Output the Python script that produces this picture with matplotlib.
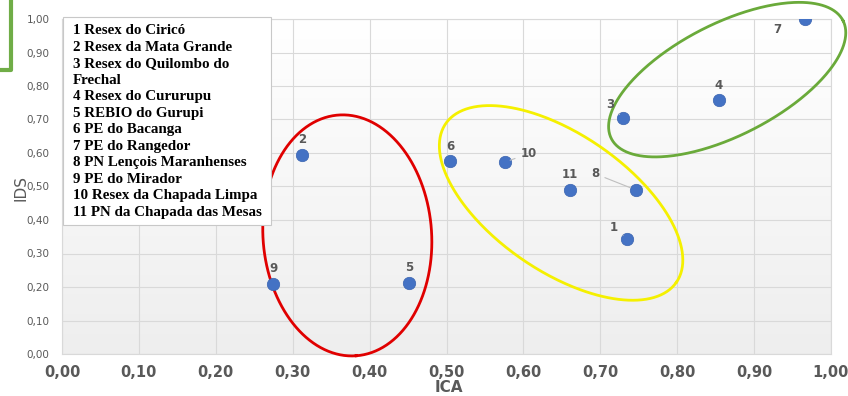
import numpy as np
import matplotlib
matplotlib.use("Agg")
import matplotlib.pyplot as plt
from matplotlib.lines import Line2D
from matplotlib.patches import Rectangle
from matplotlib.ticker import FuncFormatter, MultipleLocator

# dados (ICA x IDS)
ids_labels = ["1", "2", "3", "4", "5", "6", "7", "8", "9", "10", "11"]
ica = [0.735, 0.312, 0.730, 0.854, 0.451, 0.505, 0.966, 0.746, 0.275, 0.576, 0.660]
ids = [0.343, 0.595, 0.703, 0.757, 0.212, 0.576, 1.000, 0.490, 0.210, 0.573, 0.490]

legend_lines = [
    "1 Resex do Ciricó",
    "2 Resex da Mata Grande",
    "3 Resex do Quilombo do",
    "Frechal",
    "4 Resex do Cururupu",
    "5 REBIO do Gurupi",
    "6 PE do Bacanga",
    "7 PE do Rangedor",
    "8 PN Lençois Maranhenses",
    "9 PE do Mirador",
    "10 Resex da Chapada Limpa",
    "11 PN da Chapada das Mesas",
]

# deslocamento dos rótulos (pontos) e se tem linha guia
label_off = {
    "1": (-9.5, 8.5), "3": (-9.5, 10), "7": (-19.5, -7.5),
    "8": (-29, 11.5), "10": (17, 6),
}
leader = ["1", "3", "8", "10"]

# elipses: centro (dados), semi-eixos em pixels, angulo
ellipses = [
    ((0.371, 0.354), 120.7, 84.3, -85.8, "#e00000"),
    ((0.649, 0.451), 140.0, 68.5, -34.5, "#f5f000"),
    ((0.865, 0.819), 130.0, 56.0, 27.0, "#6aaa3a"),
]

fig = plt.figure(figsize=(8.48, 3.96), dpi=100)
fig.patch.set_facecolor("white")
ax = fig.add_axes([62 / 848, 42 / 396, (831 - 62) / 848, (354 - 19) / 396])
ax.set_xlim(0, 1)
ax.set_ylim(0, 1)

# fundo em degrade
grad = np.linspace(0, 1, 256).reshape(-1, 1)
cm = matplotlib.colors.LinearSegmentedColormap.from_list("g", ["#eeeeee", "#ffffff"])
ax.imshow(grad, extent=[0, 1, 0, 1], aspect="auto", cmap=cm, origin="lower", zorder=0)

ax.xaxis.set_major_locator(MultipleLocator(0.1))
ax.yaxis.set_major_locator(MultipleLocator(0.1))
fmt = FuncFormatter(lambda v, p: f"{v:.2f}".replace(".", ","))
ax.xaxis.set_major_formatter(fmt)
ax.yaxis.set_major_formatter(fmt)
ax.grid(True, color="#d9d9d9", linewidth=0.8, zorder=1)
ax.set_axisbelow(True)
for s in ax.spines.values():
    s.set_color("#d9d9d9")
    s.set_linewidth(0.8)
ax.tick_params(length=0)
ax.tick_params(axis="y", labelsize=7.5, labelcolor="#595959", pad=9)
ax.tick_params(axis="x", labelsize=10.5, labelcolor="#595959", pad=8)
for t in ax.get_xticklabels():
    t.set_fontweight("semibold")

ax.scatter(ica, ids, s=80, color="#4472c4", edgecolors="#3a64b0", linewidths=0.5, zorder=5)

for lab, x, y in zip(ids_labels, ica, ids):
    off = label_off.get(lab, (0, 10.8))
    ap = None
    if lab in leader:
        ap = dict(arrowstyle="-", color="#bfbfbf", lw=0.8, shrinkA=2, shrinkB=4)
    ax.annotate(lab, (x, y), xytext=off, textcoords="offset points",
                ha="center", va="center", fontsize=8.5, color="#595959",
                fontweight="semibold", arrowprops=ap, zorder=6)

# elipses desenhadas em pixels e convertidas para dados
t = np.linspace(0, 2 * np.pi, 400)
for (cx, cy), a, b, ang, col in ellipses:
    px, py = ax.transData.transform((cx, cy))
    th = np.deg2rad(ang)
    ex = px + a * np.cos(t) * np.cos(th) - b * np.sin(t) * np.sin(th)
    ey = py + a * np.cos(t) * np.sin(th) + b * np.sin(t) * np.cos(th)
    d = ax.transData.inverted().transform(np.column_stack([ex, ey]))
    ax.plot(d[:, 0], d[:, 1], color=col, lw=2, clip_on=False, zorder=4)

# caixa de legenda
ax.add_patch(Rectangle((0.0015, 0.385), 0.2705, 0.621, transform=ax.transAxes,
                       facecolor="white", edgecolor="#c8c8c8", lw=0.8,
                       clip_on=False, zorder=7))
ax.text(0.0143, 0.985, "\n".join(legend_lines), transform=ax.transAxes,
        ha="left", va="top", fontsize=10.8, fontweight="bold",
        family="Liberation Serif", linespacing=1.35, zorder=8)

fig.text(0.5 * (62 + 831) / 848 + 0.003, 8 / 396, "ICA", ha="center", va="center",
         fontsize=11, fontweight="bold", color="#595959")
fig.text(21 / 848, 1 - 188 / 396, "IDS", ha="center", va="center", rotation=90,
         fontsize=11, color="#595959")

# pedaço da moldura verde do slide
fig.add_artist(Line2D([11 / 848, 11 / 848, 0], [1, 1 - 70 / 396, 1 - 70 / 396],
                      transform=fig.transFigure, color="#70ad47", lw=3))

fig.savefig("out.png", dpi=100)
